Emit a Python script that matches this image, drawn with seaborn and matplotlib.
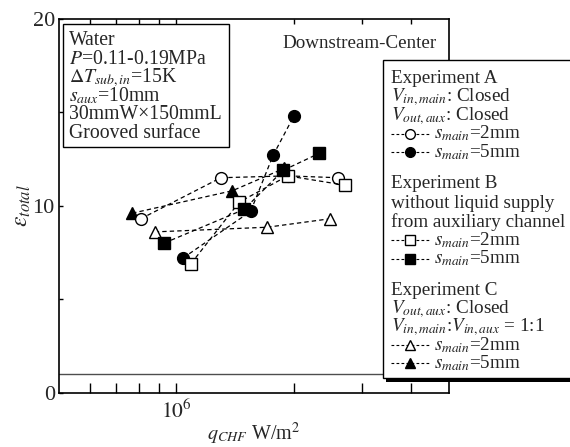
import matplotlib
matplotlib.use("Agg")
import matplotlib.pyplot as plt
import seaborn as sns
import numpy as np
from matplotlib.ticker import FixedLocator, FixedFormatter, NullFormatter
from matplotlib.patches import Rectangle
from matplotlib.lines import Line2D

# ---------------- data ----------------
qA2 = [0.81e6, 1.30e6, 1.93e6, 2.60e6]
eA2 = [9.3, 11.5, 11.6, 11.5]
qA5 = [1.04e6, 1.55e6, 1.77e6, 2.00e6]
eA5 = [7.2, 9.7, 12.7, 14.8]
qB2 = [1.09e6, 1.45e6, 1.93e6, 2.71e6]
eB2 = [6.9, 10.2, 11.6, 11.1]
qB5 = [0.93e6, 1.49e6, 1.88e6, 2.32e6]
eB5 = [8.0, 9.8, 11.9, 12.8]
qC2 = [0.88e6, 1.71e6, 2.47e6]
eC2 = [8.6, 8.85, 9.3]
qC5 = [0.77e6, 1.39e6, 1.89e6]
eC5 = [9.6, 10.8, 12.0]

ref_level = 1.0
xticks_major = [1e6]
xtick_labels = [r"$10^6$"]
xticks_minor = [6e5, 7e5, 8e5, 9e5, 2e6, 3e6, 4e6]
yticks_major = [0, 10, 20]
ytick_labels = ["0", "10", "20"]
yticks_minor = [5, 15]

info_lines = ["Water", r"$P$=0.11-0.19MPa", r"$\mathit{\Delta T}_{sub,in}$=15K",
              r"$s_{aux}$=10mm", "30mmW×150mmL", "Grooved surface"]

# ---------------- style ----------------
sns.set_style("ticks")
plt.rcParams["font.family"] = ["Liberation Serif", "DejaVu Serif"]
plt.rcParams["mathtext.fontset"] = "stix"

W, H = 570, 447
fig = plt.figure(figsize=(W / 100, H / 100), dpi=100)

def fx(px):
    return px / W

def fy(py):
    return 1 - py / H

ax = fig.add_axes([fx(59), fy(392.5), (449 - 59) / W, (392.5 - 19) / H])
ax.set_xscale("log")

dash = (0, (3.5, 2.5))
series = [
    (qC2, eC2, "^", "white"),
    (qC5, eC5, "^", "black"),
    (qA2, eA2, "o", "white"),
    (qA5, eA5, "o", "black"),
    (qB2, eB2, "s", "white"),
    (qB5, eB5, "s", "black"),
]
for q, e, m, fc in series:
    sns.lineplot(x=q, y=e, ax=ax, color="black", linestyle=dash, linewidth=0.9,
                 marker=m, markersize=8.5 if m != "s" else 8, markerfacecolor=fc,
                 markeredgecolor="black", markeredgewidth=1.0, legend=False)

ax.axhline(ref_level, color="0.3", linewidth=1.0)

ax.set_xlim(5e5, 5e6)
ax.set_ylim(0, 20)
ax.xaxis.set_major_locator(FixedLocator(xticks_major))
ax.xaxis.set_major_formatter(FixedFormatter(xtick_labels))
ax.xaxis.set_minor_locator(FixedLocator(xticks_minor))
ax.xaxis.set_minor_formatter(NullFormatter())
ax.yaxis.set_major_locator(FixedLocator(yticks_major))
ax.yaxis.set_major_formatter(FixedFormatter(ytick_labels))
ax.yaxis.set_minor_locator(FixedLocator(yticks_minor))

ax.tick_params(axis="x", which="both", direction="in", bottom=True, top=True,
               length=7, width=1, labelsize=15.5, pad=5, color="black")
ax.tick_params(axis="y", which="both", direction="in", left=True, right=False,
               length=3, width=1, labelsize=16, pad=3, color="black")
for sp in ax.spines.values():
    sp.set_linewidth(1.2)
    sp.set_color("black")
    sp.set_visible(True)

ax.set_xlabel(r"$q_{CHF}$ W/m$^2$", fontsize=14.5, labelpad=-1)
ax.set_ylabel(r"$\varepsilon_{total}$", fontsize=17, labelpad=0)

fig.canvas.draw()
for t in ax.xaxis.get_major_ticks() + ax.xaxis.get_minor_ticks():
    t.tick2line.set_markersize(3.5)

# Downstream-Center label
fig.text(fx(437), fy(48), "Downstream-Center", ha="right", va="baseline", fontsize=13.7)

# Info box
fig.add_artist(Rectangle((fx(63), fy(147)), (229 - 63) / W, (147 - 24) / H,
                         transform=fig.transFigure, facecolor="white",
                         edgecolor="black", linewidth=1.0, zorder=2))
for i, s in enumerate(info_lines):
    fig.text(fx(69), fy(45 + 18.6 * i), s, ha="left", va="baseline",
             fontsize=14.2, zorder=3)

# Legend (drawn manually so headers align with the sample lines)
lx0, ly0, lx1, ly1 = 383, 60, 580, 378
fig.add_artist(Rectangle((fx(lx0 + 3), fy(ly1 + 4)), (lx1 - lx0) / W, (ly1 - ly0) / H,
                         transform=fig.transFigure, facecolor="black",
                         edgecolor="black", linewidth=0, zorder=4))
fig.add_artist(Rectangle((fx(lx0), fy(ly1)), (lx1 - lx0) / W, (ly1 - ly0) / H,
                         transform=fig.transFigure, facecolor="white",
                         edgecolor="black", linewidth=1.0, zorder=5))

legend_rows = [
    ("Experiment A", None, None, 83.3),
    (r"$V_{in,main}$: Closed", None, None, 101.7),
    (r"$V_{out,aux}$: Closed", None, None, 120.4),
    (r"$s_{main}$=2mm", "o", "white", 138.5),
    (r"$s_{main}$=5mm", "o", "black", 157),
    ("Experiment B", None, None, 188.3),
    ("without liquid supply", None, None, 208),
    ("from auxiliary channel", None, None, 226.7),
    (r"$s_{main}$=2mm", "s", "white", 245.3),
    (r"$s_{main}$=5mm", "s", "black", 263.5),
    ("Experiment C", None, None, 295),
    (r"$V_{out,aux}$: Closed", None, None, 313.3),
    (r"$V_{in,main}$:$V_{in,aux}$ = 1:1", None, None, 331.7),
    (r"$s_{main}$=2mm", "^", "white", 350),
    (r"$s_{main}$=5mm", "^", "black", 368.3),
]
for label, m, fc, yb in legend_rows:
    if m is None:
        fig.text(fx(391), fy(yb), label, ha="left", va="baseline", fontsize=13.8, zorder=6)
    else:
        ys = fy(yb - 5)
        fig.add_artist(Line2D([fx(391), fx(431)], [ys, ys], transform=fig.transFigure,
                              color="black", linestyle=(0, (2.5, 2.0)), linewidth=0.8,
                              zorder=6))
        fig.add_artist(Line2D([fx(410)], [ys], transform=fig.transFigure,
                              marker=m, markersize=7 if m != "s" else 6.5,
                              markerfacecolor=fc, markeredgecolor="black",
                              markeredgewidth=1.0, linestyle="none", zorder=7))
        fig.text(fx(434), fy(yb), label, ha="left", va="baseline", fontsize=13.8, zorder=6)

fig.savefig("out.png", dpi=100)
